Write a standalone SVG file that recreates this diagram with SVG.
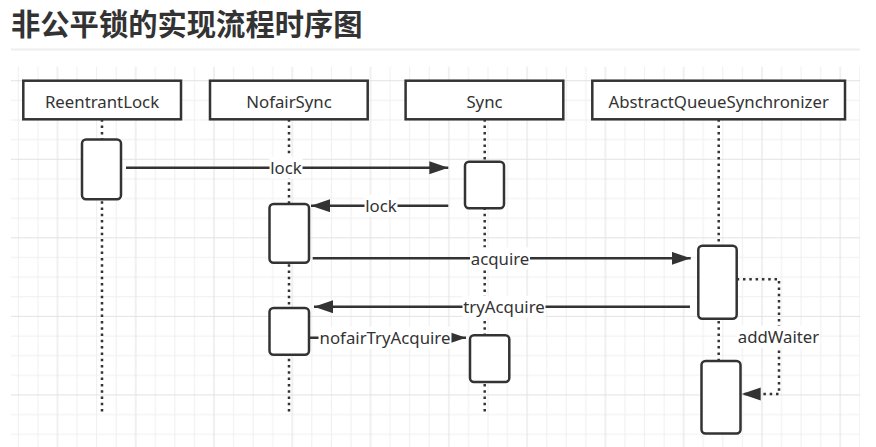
<svg xmlns="http://www.w3.org/2000/svg" width="876" height="447" viewBox="0 0 876 447">
  <style>
    .title { font-family: "Noto Sans CJK SC", "Noto Sans", sans-serif; font-weight: bold; font-size: 29.3px; fill: #333333; }
    .lbl { font-family: "Noto Sans", "Liberation Sans", sans-serif; font-size: 16.8px; fill: #333333; text-anchor: middle; }
    .part { fill: #ffffff; stroke: #333333; stroke-width: 2.5; }
    .act { fill: #ffffff; stroke: #333333; stroke-width: 2.5; }
    .life { stroke: #333333; stroke-width: 2.5; stroke-dasharray: 2.5 3.8; fill: none; }
    .msg { stroke: #333333; stroke-width: 2.5; fill: none; marker-end: url(#arrow); }
    .self { stroke: #333333; stroke-width: 2.5; stroke-dasharray: 2.5 3.8; fill: none; marker-end: url(#arrow); }
    .lblbg { fill: #ffffff; }
  </style>
  <defs>
    <pattern id="grid" patternUnits="userSpaceOnUse" x="17.8" y="80.2" width="78.28" height="78.56">
      <g stroke="#efefef" stroke-width="1">
        <line x1="0.5" y1="0" x2="0.5" y2="78.56"/>
        <line x1="20.07" y1="0" x2="20.07" y2="78.56"/>
        <line x1="59.21" y1="0" x2="59.21" y2="78.56"/>
        <line x1="0" y1="20.14" x2="78.28" y2="20.14"/>
        <line x1="0" y1="39.78" x2="78.28" y2="39.78"/>
        <line x1="0" y1="59.42" x2="78.28" y2="59.42"/>
      </g>
      <g stroke="#e2e2e2" stroke-width="1">
        <line x1="39.64" y1="0" x2="39.64" y2="78.56"/>
        <line x1="0" y1="0.5" x2="78.28" y2="0.5"/>
      </g>
    </pattern>
    <marker id="arrow" markerUnits="userSpaceOnUse" markerWidth="20" markerHeight="14" refX="19" refY="6.5" orient="auto">
      <path d="M0,0 L19,6.5 L0,13 Z" fill="#333333"/>
    </marker>
  </defs>

  <rect x="0" y="0" width="876" height="447" fill="#ffffff"/>
  <text class="title" x="11" y="35">非公平锁的实现流程时序图</text>
  <line x1="11" y1="49.5" x2="860" y2="49.5" stroke="#eeeeee" stroke-width="2"/>
  <rect x="11" y="66.7" width="849" height="380.3" fill="url(#grid)"/>

  <g id="lifelines">
    <line class="life" x1="102" y1="119.3" x2="102" y2="415"/>
    <line class="life" x1="289" y1="119.3" x2="289" y2="415"/>
    <line class="life" x1="484.7" y1="119.3" x2="484.7" y2="415"/>
    <line class="life" x1="718.7" y1="119.3" x2="718.7" y2="415"/>
  </g>

  <g id="ReentrantLock">
    <rect class="part" x="23.3" y="80.7" width="157.7" height="38.6"/>
    <text class="lbl" x="102" y="107.5">ReentrantLock</text>
    <rect class="act" x="82" y="139.5" width="39" height="59.7" rx="4"/>
  </g>
  <g id="NofairSync">
    <rect class="part" x="210" y="80.7" width="157.7" height="38.6"/>
    <text class="lbl" x="289" y="107.5">NofairSync</text>
    <rect class="act" x="269.5" y="204" width="39.5" height="58.7" rx="4"/>
    <rect class="act" x="269.5" y="308" width="39.5" height="46.7" rx="4"/>
  </g>
  <g id="Sync">
    <rect class="part" x="405.6" y="80.7" width="157.7" height="38.6"/>
    <text class="lbl" x="484.5" y="107.5">Sync</text>
    <rect class="act" x="465" y="161.7" width="39" height="46.6" rx="4"/>
    <rect class="act" x="470" y="335.3" width="39.3" height="46.7" rx="4"/>
  </g>
  <g id="AbstractQueueSynchronizer">
    <rect class="part" x="592.3" y="80.7" width="252.7" height="38.6"/>
    <text class="lbl" x="718.7" y="107.5">AbstractQueueSynchronizer</text>
    <rect class="act" x="698.3" y="245.7" width="38.4" height="73" rx="4"/>
    <rect class="act" x="701.5" y="361" width="39" height="72.5" rx="4"/>
  </g>

  <g id="connectors">
    <path class="msg" d="M126,167.7 H448.3"/>
    <rect class="lblbg" x="269.5" y="156.7" width="33" height="22"/>
    <text class="lbl" x="286" y="174.2">lock</text>

    <path class="msg" d="M448.3,205.7 H311"/>
    <rect class="lblbg" x="364.5" y="194.7" width="33" height="22"/>
    <text class="lbl" x="381" y="212.2">lock</text>

    <path class="msg" d="M312.7,258.3 H690.7"/>
    <rect class="lblbg" x="470" y="247.3" width="60" height="22"/>
    <text class="lbl" x="500" y="264.8">acquire</text>

    <path class="msg" d="M690,306.7 H314"/>
    <rect class="lblbg" x="462.5" y="295.7" width="83" height="22"/>
    <text class="lbl" x="504" y="313.2">tryAcquire</text>

    <path class="msg" d="M309.3,337.7 H466"/>
    <rect class="lblbg" x="318.5" y="326.7" width="133" height="22"/>
    <text class="lbl" x="385" y="344.2">nofairTryAcquire</text>

    <path class="self" d="M736.7,279.3 H779 V394 H741.7"/>
    <rect class="lblbg" x="737" y="325.7" width="83" height="22"/>
    <text class="lbl" x="778.5" y="343.2">addWaiter</text>
  </g>
</svg>
